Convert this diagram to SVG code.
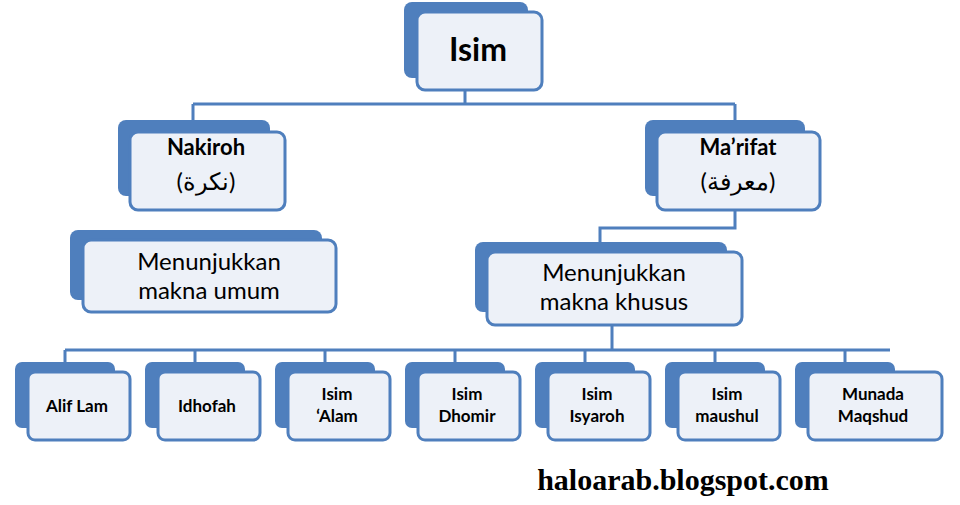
<svg xmlns="http://www.w3.org/2000/svg" width="960" height="505" viewBox="0 0 960 505">
<style>
.b{fill:#4f7fbd}
.f{fill:#edf1f8;stroke:#4f7fbd;stroke-width:3}
.t{font-family:Lato,"Liberation Sans",sans-serif;fill:#000;text-anchor:middle}
.bd{font-weight:bold}
.c{fill:none;stroke:#4f7fbd;stroke-width:3}
</style>
<rect width="960" height="505" fill="#fff"/>
<g id="connectors">
<path class="c" d="M465 90V104M193 104H735M193 104V122M735 104V122M735 210V228H600V244M612 325V350M65 350H890M65 350V364M195 350V364M325 350V364M455 350V364M585 350V364M715 350V364M845 350V364"/>
</g>
<g id="isim"><rect class="b" x="404" y="2" width="124" height="76" rx="8"/><rect class="f" x="417" y="12" width="125" height="78" rx="8"/><text class="t bd" x="478" y="61" font-size="32">Isim</text></g>
<g id="nakiroh"><rect class="b" x="118" y="120" width="152" height="76" rx="8"/><rect class="f" x="130" y="132" width="155" height="78" rx="8"/><text class="t bd" x="206" y="155" font-size="22">Nakiroh</text><text class="t" x="206" y="190" font-size="24" font-family="'DejaVu Sans',sans-serif">(نكرة)</text></g>
<g id="marifat"><rect class="b" x="645" y="120" width="160" height="76" rx="8"/><rect class="f" x="657" y="132" width="163" height="78" rx="8"/><text class="t bd" x="738" y="155" font-size="22">Ma’rifat</text><text class="t" x="738" y="190" font-size="24" font-family="'DejaVu Sans',sans-serif">(معرفة)</text></g>
<g id="umum"><rect class="b" x="70" y="230" width="252" height="70" rx="8"/><rect class="f" x="83" y="240" width="253" height="72" rx="8"/><text class="t" x="209" y="270" font-size="24">Menunjukkan</text><text class="t" x="209" y="299" font-size="24">makna umum</text></g>
<g id="khusus"><rect class="b" x="475" y="242" width="252" height="70" rx="8"/><rect class="f" x="487" y="252" width="255" height="73" rx="8"/><text class="t" x="614" y="281" font-size="24">Menunjukkan</text><text class="t" x="614" y="310" font-size="24">makna khusus</text></g>
<g id="alif"><rect class="b" x="15" y="362" width="100" height="66" rx="7"/><rect class="f" x="28" y="372" width="102" height="68" rx="7"/><text class="t bd" x="77" y="412" font-size="17">Alif Lam</text></g>
<g id="idhofah"><rect class="b" x="145" y="362" width="100" height="66" rx="7"/><rect class="f" x="158" y="372" width="102" height="68" rx="7"/><text class="t bd" x="207" y="412" font-size="17">Idhofah</text></g>
<g id="alam"><rect class="b" x="275" y="362" width="100" height="66" rx="7"/><rect class="f" x="288" y="372" width="102" height="68" rx="7"/><text class="t bd" x="337" y="400" font-size="17">Isim</text><text class="t bd" x="337" y="422" font-size="17">‘Alam</text></g>
<g id="dhomir"><rect class="b" x="405" y="362" width="100" height="66" rx="7"/><rect class="f" x="418" y="372" width="102" height="68" rx="7"/><text class="t bd" x="467" y="400" font-size="17">Isim</text><text class="t bd" x="467" y="422" font-size="17">Dhomir</text></g>
<g id="isyaroh"><rect class="b" x="535" y="362" width="100" height="66" rx="7"/><rect class="f" x="548" y="372" width="102" height="68" rx="7"/><text class="t bd" x="597" y="400" font-size="17">Isim</text><text class="t bd" x="597" y="422" font-size="17">Isyaroh</text></g>
<g id="maushul"><rect class="b" x="665" y="362" width="100" height="66" rx="7"/><rect class="f" x="678" y="372" width="102" height="68" rx="7"/><text class="t bd" x="727" y="400" font-size="17">Isim</text><text class="t bd" x="727" y="422" font-size="17">maushul</text></g>
<g id="munada"><rect class="b" x="795" y="362" width="100" height="66" rx="7"/><rect class="f" x="808" y="372" width="134" height="68" rx="7"/><text class="t bd" x="873" y="400" font-size="17">Munada</text><text class="t bd" x="873" y="422" font-size="17">Maqshud</text></g>
<text x="683" y="490" font-family="'Liberation Serif',serif" font-weight="bold" font-size="30" text-anchor="middle">haloarab.blogspot.com</text>
</svg>
